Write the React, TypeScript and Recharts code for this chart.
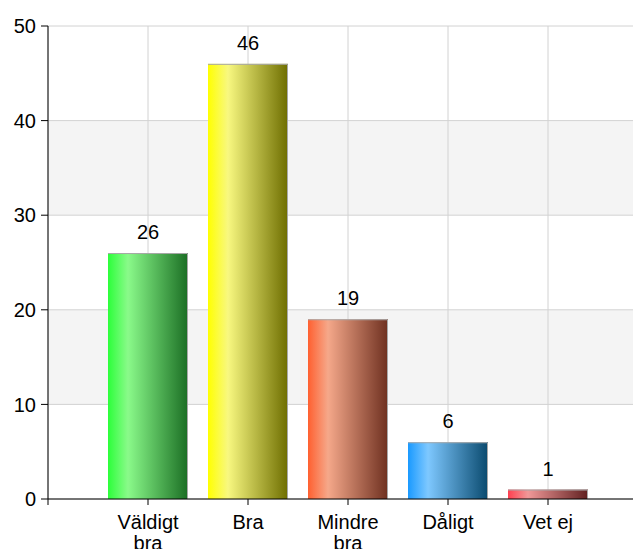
import { Bar, BarChart, CartesianGrid, Cell, LabelList, XAxis, YAxis } from "recharts";

const categories = ["Väldigt bra", "Bra", "Mindre bra", "Dåligt", "Vet ej"];
const counts = [26, 46, 19, 6, 1];
const yTicks = [0, 10, 20, 30, 40, 50];
const xTicks = [0, 1, 2, 3, 4, 5];

// left edge, highlight, dark right edge
const barColors = [
    ["#2cff3a", "#8afa8a", "#1b6e24"],
    ["#ffff00", "#f8f880", "#6e6e00"],
    ["#ff6030", "#f5a88a", "#6e3020"],
    ["#1a9aff", "#7ec8ff", "#0a4a6e"],
    ["#ff4050", "#f09898", "#602020"],
];

const data = categories.map((name, i) => ({ name, pos: i + 1, count: counts[i] }));

const font = "'Liberation Sans', Arial, sans-serif";

function GradientBar(props: any) {
    const { x, y, width, height, fill } = props;
    if (!height) return null;
    return (
        <g>
            <rect x={x} y={y} width={width} height={height} fill={fill} />
            <path
                d={`M${x},${y + 0.5}H${x + width - 0.5}V${y + height}`}
                stroke="#a8a8a8"
                fill="none"
            />
        </g>
    );
}

// long labels break onto two lines like the original
function CategoryTick({ x, y, payload }: any) {
    const name: string | undefined = categories[payload.value - 1];
    if (!name) return null;
    const lines = name.length > 8 ? name.split(" ") : [name];
    return (
        <text x={x} y={y} textAnchor="middle" fontSize={20} fontFamily={font} fill="#000">
            {lines.map((l, i) => (
                <tspan key={i} x={x} dy={i === 0 ? "0.71em" : 21}>
                    {l}
                </tspan>
            ))}
        </text>
    );
}

export default function App() {
    return (
        <div style={{ margin: -8, width: 641, height: 557, overflow: "hidden", position: "relative" }}>
            <BarChart
                width={660}
                height={557}
                data={data}
                margin={{ top: 26, right: 12, bottom: 0, left: 0 }}
            >
                <defs>
                    {barColors.map((c, i) => (
                        <linearGradient key={i} id={`grad${i}`} x1="0" y1="0" x2="1" y2="0">
                            <stop offset="0%" stopColor={c[0]} />
                            <stop offset="25%" stopColor={c[1]} />
                            <stop offset="100%" stopColor={c[2]} />
                        </linearGradient>
                    ))}
                </defs>
                <CartesianGrid stroke="#d2d2d2" horizontalFill={["#ffffff", "#f4f4f4"]} />
                <XAxis
                    type="number"
                    dataKey="pos"
                    domain={[0, 6]}
                    ticks={xTicks}
                    interval={0}
                    height={58}
                    axisLine={{ stroke: "#000" }}
                    tickLine={{ stroke: "#000" }}
                    tickSize={6}
                    tickMargin={10}
                    tick={<CategoryTick />}
                />
                <YAxis
                    domain={[0, 50]}
                    ticks={yTicks}
                    interval={0}
                    width={48}
                    axisLine={{ stroke: "#000" }}
                    tickLine={{ stroke: "#000" }}
                    tickSize={7}
                    tickMargin={5}
                    tick={{ fill: "#000", fontSize: 20, fontFamily: font }}
                />
                <Bar dataKey="count" barSize={80} shape={<GradientBar />} isAnimationActive={false}>
                    {data.map((d, i) => (
                        <Cell key={d.name} fill={`url(#grad${i})`} />
                    ))}
                    <LabelList
                        dataKey="count"
                        position="top"
                        offset={14}
                        fill="#000"
                        fontSize={20}
                        fontFamily={font}
                    />
                </Bar>
            </BarChart>
        </div>
    );
}
